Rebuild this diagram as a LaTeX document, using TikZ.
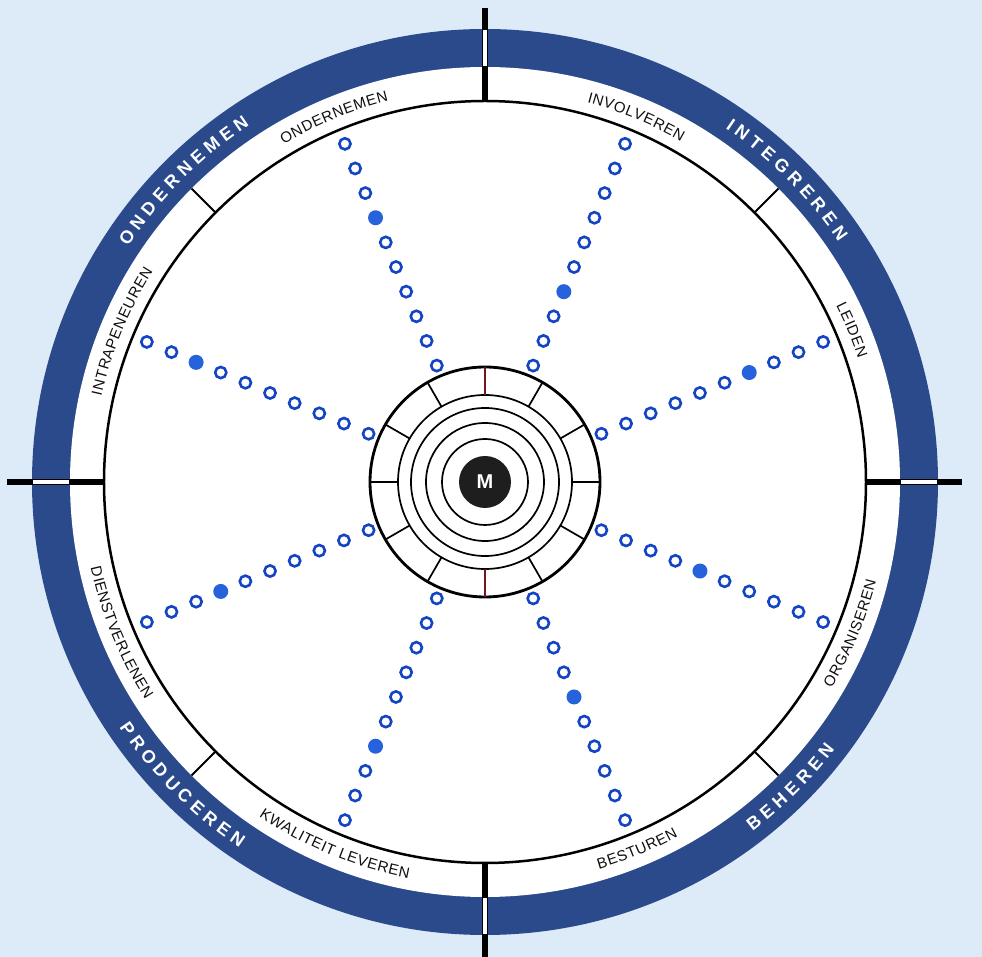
\documentclass[tikz,border=0pt]{standalone}
\usepackage{fontspec}
\newfontfamily\labelfont{Liberation Sans}

\definecolor{paleblue}{RGB}{221,234,248}
\definecolor{ringblue}{RGB}{43,74,139}
\definecolor{dotblue}{RGB}{18,68,196}
\definecolor{dotfill}{RGB}{38,98,220}
\definecolor{hubred}{RGB}{112,24,32}
\definecolor{hubdark}{RGB}{30,30,30}
\definecolor{inkgrey}{RGB}{15,15,15}

\newcommand\bandfont{\labelfont\fontsize{15}{15}\selectfont}
\newcommand\ringfont{\labelfont\bfseries\fontsize{18}{18}\selectfont}

% letter widths (em) of the sans face, r = regular, b = bold
\newcommand\setcw[3]{\expandafter\def\csname cw#1@#2\endcsname{#3}}
\setcw{r}{A}{0.667}\setcw{r}{B}{0.667}\setcw{r}{D}{0.722}\setcw{r}{E}{0.667}
\setcw{r}{G}{0.778}\setcw{r}{I}{0.278}\setcw{r}{K}{0.667}\setcw{r}{L}{0.556}
\setcw{r}{M}{0.833}\setcw{r}{N}{0.722}\setcw{r}{O}{0.778}\setcw{r}{P}{0.667}
\setcw{r}{R}{0.722}\setcw{r}{S}{0.667}\setcw{r}{T}{0.611}\setcw{r}{U}{0.722}
\setcw{r}{V}{0.667}\setcw{r}{W}{0.944}\setcw{r}{}{0.278}
\setcw{b}{B}{0.722}\setcw{b}{C}{0.722}\setcw{b}{D}{0.722}\setcw{b}{E}{0.667}
\setcw{b}{G}{0.778}\setcw{b}{H}{0.722}\setcw{b}{I}{0.278}\setcw{b}{M}{0.833}
\setcw{b}{N}{0.722}\setcw{b}{O}{0.778}\setcw{b}{P}{0.667}\setcw{b}{R}{0.722}
\setcw{b}{T}{0.611}\setcw{b}{U}{0.722}
\def\fsr{15}
\def\fsb{18}

% letters on an arc: angle, baseline radius, tracking, direction (1 = clockwise),
% colour, width key, font, name, letters
\newcommand\arcletters[9]{%
  \xdef\totpos{0}%
  \foreach \c in {#9}{%
    \edef\cwv{\csname cw#6@\c\endcsname}%
    \pgfmathsetmacro\t{\totpos+\cwv*\csname fs#6\endcsname+#3}%
    \xdef\totpos{\t}%
  }%
  \pgfmathsetmacro\t{\totpos-#3}\xdef\totpos{\t}%
  \xdef\runpos{0}%
  \foreach \c [count=\k] in {#9}{%
    \edef\cwv{\csname cw#6@\c\endcsname}%
    \pgfmathsetmacro\w{\cwv*\csname fs#6\endcsname}%
    \pgfmathsetmacro\pos{\runpos+0.5*\w-0.5*\totpos}%
    \pgfmathsetmacro\ang{#1-(#4)*\pos/#2*57.29578}%
    \pgfmathsetmacro\rot{\ang-90*(#4)}%
    \node[rotate=\rot,text=#5,font=#7,inner sep=0pt,anchor=base] (#8-\k) at (\ang:#2) {\c};
    \pgfmathsetmacro\t{\runpos+\w+#3}%
    \xdef\runpos{\t}%
  }%
}

\tikzset{
  ringline/.style={line width=2.5pt},
  hubline/.style={line width=1.7pt},
  dotring/.style={draw=dotblue,line width=2.6pt},
  axisline/.style={line width=6.5pt},
}

\begin{document}
\begin{tikzpicture}[x=1pt,y=1pt]
\useasboundingbox (-485,-475) rectangle (497,482);
\fill[paleblue] (-485,-475) rectangle (497,482);

% rings
\fill[ringblue] (0,0) circle[radius=453];
\fill[white] (0,0) circle[radius=415];
\draw[ringline] (0,0) circle[radius=381];
\foreach \a in {45,135,225,315}
  \draw[line width=2pt] (\a:381) -- (\a:415);

% axes
\draw[axisline] (90:381) -- (90:474);
\draw[axisline] (180:381) -- (180:478);
\draw[axisline] (0:381) -- (0:477);
\draw[axisline] (270:381) -- (270:480);
\foreach \a in {0,90,180,270}
  \draw[white,line width=3.2pt] (\a:416) -- (\a:452);

% hub
\draw[line width=2.8pt] (0,0) circle[radius=115];
\foreach \r in {87,74,59,43}
  \draw[hubline] (0,0) circle[radius=\r];
\foreach \a in {0,30,60,120,150,180,210,240,300,330}
  \draw[hubline] (\a:87) -- (\a:115);
\draw[hubline,hubred] (90:87) -- (90:115);
\draw[hubline,hubred] (270:87) -- (270:115);
\node[circle,fill=hubdark,minimum size=52pt,inner sep=0pt,text=white,
  font=\labelfont\bfseries\fontsize{20}{20}\selectfont] (M) at (0,0) {M};

% dots, one filled per ray
\foreach \a/\f in {22.5/7,67.5/4,112.5/7,157.5/8,202.5/7,247.5/7,292.5/5,337.5/5}
  \foreach \i in {1,...,10}{
    \pgfmathsetmacro\r{126+26.67*(\i-1)}
    \ifnum\i=\f
      \fill[dotfill] (\a:\r) circle[radius=7.5];
    \else
      \draw[dotring] (\a:\r) circle[radius=5.6];
    \fi
  }

% band labels
\arcletters{112.5}{393}{0.6}{1}{inkgrey}{r}{\bandfont}{ondern}{O,N,D,E,R,N,E,M,E,N}
\arcletters{67.5}{393}{0.6}{1}{inkgrey}{r}{\bandfont}{involv}{I,N,V,O,L,V,E,R,E,N}
\arcletters{22.5}{393}{0.6}{1}{inkgrey}{r}{\bandfont}{leiden}{L,E,I,D,E,N}
\arcletters{157.5}{393}{0.6}{1}{inkgrey}{r}{\bandfont}{intrap}{I,N,T,R,A,P,E,N,E,U,R,E,N}
\arcletters{-22.5}{403.5}{0.6}{-1}{inkgrey}{r}{\bandfont}{organ}{O,R,G,A,N,I,S,E,R,E,N}
\arcletters{-67.5}{403.5}{0.6}{-1}{inkgrey}{r}{\bandfont}{bestur}{B,E,S,T,U,R,E,N}
\arcletters{-112.5}{403.5}{0.6}{-1}{inkgrey}{r}{\bandfont}{kwalit}{K,W,A,L,I,T,E,I,T,{},L,E,V,E,R,E,N}
\arcletters{-157.5}{403.5}{0.6}{-1}{inkgrey}{r}{\bandfont}{dienst}{D,I,E,N,S,T,V,E,R,L,E,N,E,N}

% ring labels
\arcletters{135}{427.5}{4.8}{1}{white}{b}{\ringfont}{rondern}{O,N,D,E,R,N,E,M,E,N}
\arcletters{45}{427.5}{4.8}{1}{white}{b}{\ringfont}{integr}{I,N,T,E,G,R,E,R,E,N}
\arcletters{-45}{440.5}{4.8}{-1}{white}{b}{\ringfont}{beher}{B,E,H,E,R,E,N}
\arcletters{-135}{440.5}{4.8}{-1}{white}{b}{\ringfont}{produc}{P,R,O,D,U,C,E,R,E,N}

\end{tikzpicture}
\end{document}
